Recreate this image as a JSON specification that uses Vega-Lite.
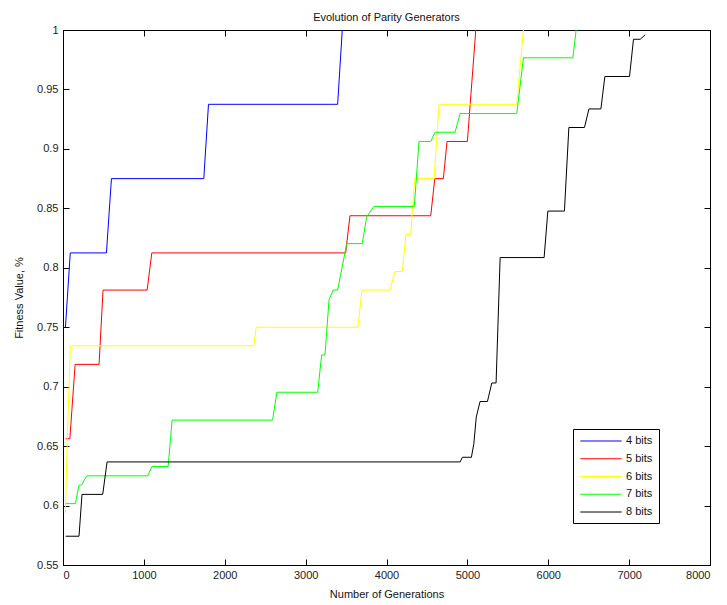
{
  "$schema": "https://vega.github.io/schema/vega-lite/v6.json",
  "width": 647,
  "height": 535,
  "autosize": {"type": "none"},
  "padding": {"left": 63, "top": 30, "right": 17, "bottom": 40},
  "background": "white",
  "config": {
    "font": "Liberation Sans",
    "view": {"stroke": "black", "strokeWidth": 1},
    "axis": {"grid": false, "domainColor": "black", "tickColor": "black", "labelColor": "#222", "labelFont": "Liberation Sans", "labelFontSize": 11, "titleFont": "Liberation Sans", "titleFontSize": 11, "titleFontWeight": "normal", "titleColor": "#111", "tickSize": -6}
  },
  "title": {"text": "Evolution of Parity Generators", "fontSize": 11, "fontWeight": "normal", "font": "Liberation Sans", "color": "#111", "offset": 1},
  "data": {"values": [
    {"s":"4 bits","x":30,"y":0.75},{"s":"4 bits","x":90,"y":0.8125},{"s":"4 bits","x":537,"y":0.8125},{"s":"4 bits","x":599,"y":0.875},{"s":"4 bits","x":1741,"y":0.875},{"s":"4 bits","x":1799,"y":0.9375},{"s":"4 bits","x":3396,"y":0.9375},{"s":"4 bits","x":3453,"y":1},
    {"s":"5 bits","x":33,"y":0.65625},{"s":"5 bits","x":85,"y":0.65625},{"s":"5 bits","x":150,"y":0.71875},{"s":"5 bits","x":446,"y":0.71875},{"s":"5 bits","x":495,"y":0.78125},{"s":"5 bits","x":1040,"y":0.78125},{"s":"5 bits","x":1098,"y":0.8125},{"s":"5 bits","x":3495,"y":0.8125},{"s":"5 bits","x":3548,"y":0.84375},{"s":"5 bits","x":4547,"y":0.84375},{"s":"5 bits","x":4597,"y":0.875},{"s":"5 bits","x":4703,"y":0.875},{"s":"5 bits","x":4749,"y":0.90625},{"s":"5 bits","x":5000,"y":0.90625},{"s":"5 bits","x":5104,"y":1},
    {"s":"6 bits","x":30,"y":0.59375},{"s":"6 bits","x":55,"y":0.66},{"s":"6 bits","x":91,"y":0.734375},{"s":"6 bits","x":2360,"y":0.734375},{"s":"6 bits","x":2389,"y":0.75},{"s":"6 bits","x":3647,"y":0.75},{"s":"6 bits","x":3697,"y":0.78125},{"s":"6 bits","x":4043,"y":0.78125},{"s":"6 bits","x":4105,"y":0.796875},{"s":"6 bits","x":4196,"y":0.796875},{"s":"6 bits","x":4241,"y":0.828125},{"s":"6 bits","x":4299,"y":0.828125},{"s":"6 bits","x":4349,"y":0.875},{"s":"6 bits","x":4588,"y":0.875},{"s":"6 bits","x":4650,"y":0.9375},{"s":"6 bits","x":5611,"y":0.9375},{"s":"6 bits","x":5693,"y":1},
    {"s":"7 bits","x":33,"y":0.6016},{"s":"7 bits","x":153,"y":0.6016},{"s":"7 bits","x":198,"y":0.6172},{"s":"7 bits","x":228,"y":0.6172},{"s":"7 bits","x":293,"y":0.625},{"s":"7 bits","x":1048,"y":0.625},{"s":"7 bits","x":1098,"y":0.6328},{"s":"7 bits","x":1300,"y":0.6328},{"s":"7 bits","x":1349,"y":0.671875},{"s":"7 bits","x":2591,"y":0.671875},{"s":"7 bits","x":2645,"y":0.6953},{"s":"7 bits","x":3149,"y":0.6953},{"s":"7 bits","x":3198,"y":0.7266},{"s":"7 bits","x":3239,"y":0.7266},{"s":"7 bits","x":3290,"y":0.7734},{"s":"7 bits","x":3342,"y":0.78125},{"s":"7 bits","x":3396,"y":0.78125},{"s":"7 bits","x":3508,"y":0.8203},{"s":"7 bits","x":3700,"y":0.8203},{"s":"7 bits","x":3755,"y":0.8429},{"s":"7 bits","x":3845,"y":0.8516},{"s":"7 bits","x":4344,"y":0.8516},{"s":"7 bits","x":4402,"y":0.90625},{"s":"7 bits","x":4547,"y":0.90625},{"s":"7 bits","x":4600,"y":0.914},{"s":"7 bits","x":4848,"y":0.914},{"s":"7 bits","x":4910,"y":0.9297},{"s":"7 bits","x":5611,"y":0.9297},{"s":"7 bits","x":5693,"y":0.9766},{"s":"7 bits","x":6304,"y":0.9766},{"s":"7 bits","x":6345,"y":1},
    {"s":"8 bits","x":33,"y":0.5742},{"s":"8 bits","x":198,"y":0.5742},{"s":"8 bits","x":235,"y":0.6094},{"s":"8 bits","x":491,"y":0.6094},{"s":"8 bits","x":545,"y":0.6367},{"s":"8 bits","x":4910,"y":0.6367},{"s":"8 bits","x":4938,"y":0.6406},{"s":"8 bits","x":5050,"y":0.6406},{"s":"8 bits","x":5080,"y":0.652},{"s":"8 bits","x":5110,"y":0.6745},{"s":"8 bits","x":5157,"y":0.6875},{"s":"8 bits","x":5248,"y":0.6875},{"s":"8 bits","x":5302,"y":0.7031},{"s":"8 bits","x":5355,"y":0.7031},{"s":"8 bits","x":5405,"y":0.8086},{"s":"8 bits","x":5949,"y":0.8086},{"s":"8 bits","x":5995,"y":0.8477},{"s":"8 bits","x":6200,"y":0.8477},{"s":"8 bits","x":6255,"y":0.918},{"s":"8 bits","x":6448,"y":0.918},{"s":"8 bits","x":6503,"y":0.9336},{"s":"8 bits","x":6651,"y":0.9336},{"s":"8 bits","x":6700,"y":0.9609},{"s":"8 bits","x":7005,"y":0.9609},{"s":"8 bits","x":7054,"y":0.9922},{"s":"8 bits","x":7137,"y":0.9922},{"s":"8 bits","x":7199,"y":0.996}
  ]},
  "layer": [
    {
      "mark": {"type": "line", "strokeWidth": 1, "clip": true},
      "encoding": {
        "x": {"field": "x", "type": "quantitative", "scale": {"domain": [0, 8000], "nice": false}, "axis": {"title": "Number of Generations", "values": [0,1000,2000,3000,4000,5000,6000,7000,8000], "format": "d", "labelPadding": 10, "titlePadding": 8}},
        "y": {"field": "y", "type": "quantitative", "scale": {"domain": [0.55, 1], "nice": false, "zero": false}, "axis": {"title": "Fitness Value, %", "values": [0.55,0.6,0.65,0.7,0.75,0.8,0.85,0.9,0.95,1], "format": ".2~f", "labelPadding": 11, "titlePadding": 12}},
        "color": {"field": "s", "type": "nominal", "scale": {"domain": ["4 bits","5 bits","6 bits","7 bits","8 bits"], "range": ["#0000ff","#ff0000","#ffff00","#00ff00","#000000"]},
          "legend": {"title": null, "orient": "none", "legendX": 510, "legendY": 399, "symbolType": "M-3.76,0H3.76", "symbolSize": 121, "symbolStrokeWidth": 1, "symbolFillColor": "transparent", "labelFontSize": 11, "labelFont": "Liberation Sans", "labelColor": "#111", "strokeColor": "black", "fillColor": "white", "padding": 6, "rowPadding": 6.75, "labelOffset": 19, "symbolOffset": 16}},
        "order": {"field": "x", "type": "quantitative"}
      }
    },
    {
      "mark": {"type": "line", "opacity": 0},
      "encoding": {
        "x": {"field": "x", "type": "quantitative", "scale": {"domain": [0, 8000], "nice": false}, "axis": {"orient": "top", "title": null, "labels": false, "values": [0,1000,2000,3000,4000,5000,6000,7000,8000]}},
        "y": {"field": "y", "type": "quantitative", "scale": {"domain": [0.55, 1], "nice": false, "zero": false}, "axis": {"orient": "right", "title": null, "labels": false, "values": [0.55,0.6,0.65,0.7,0.75,0.8,0.85,0.9,0.95,1]}},
        "detail": {"field": "s", "type": "nominal"}
      }
    }
  ],
  "resolve": {"axis": {"x": "independent", "y": "independent"}}
}
